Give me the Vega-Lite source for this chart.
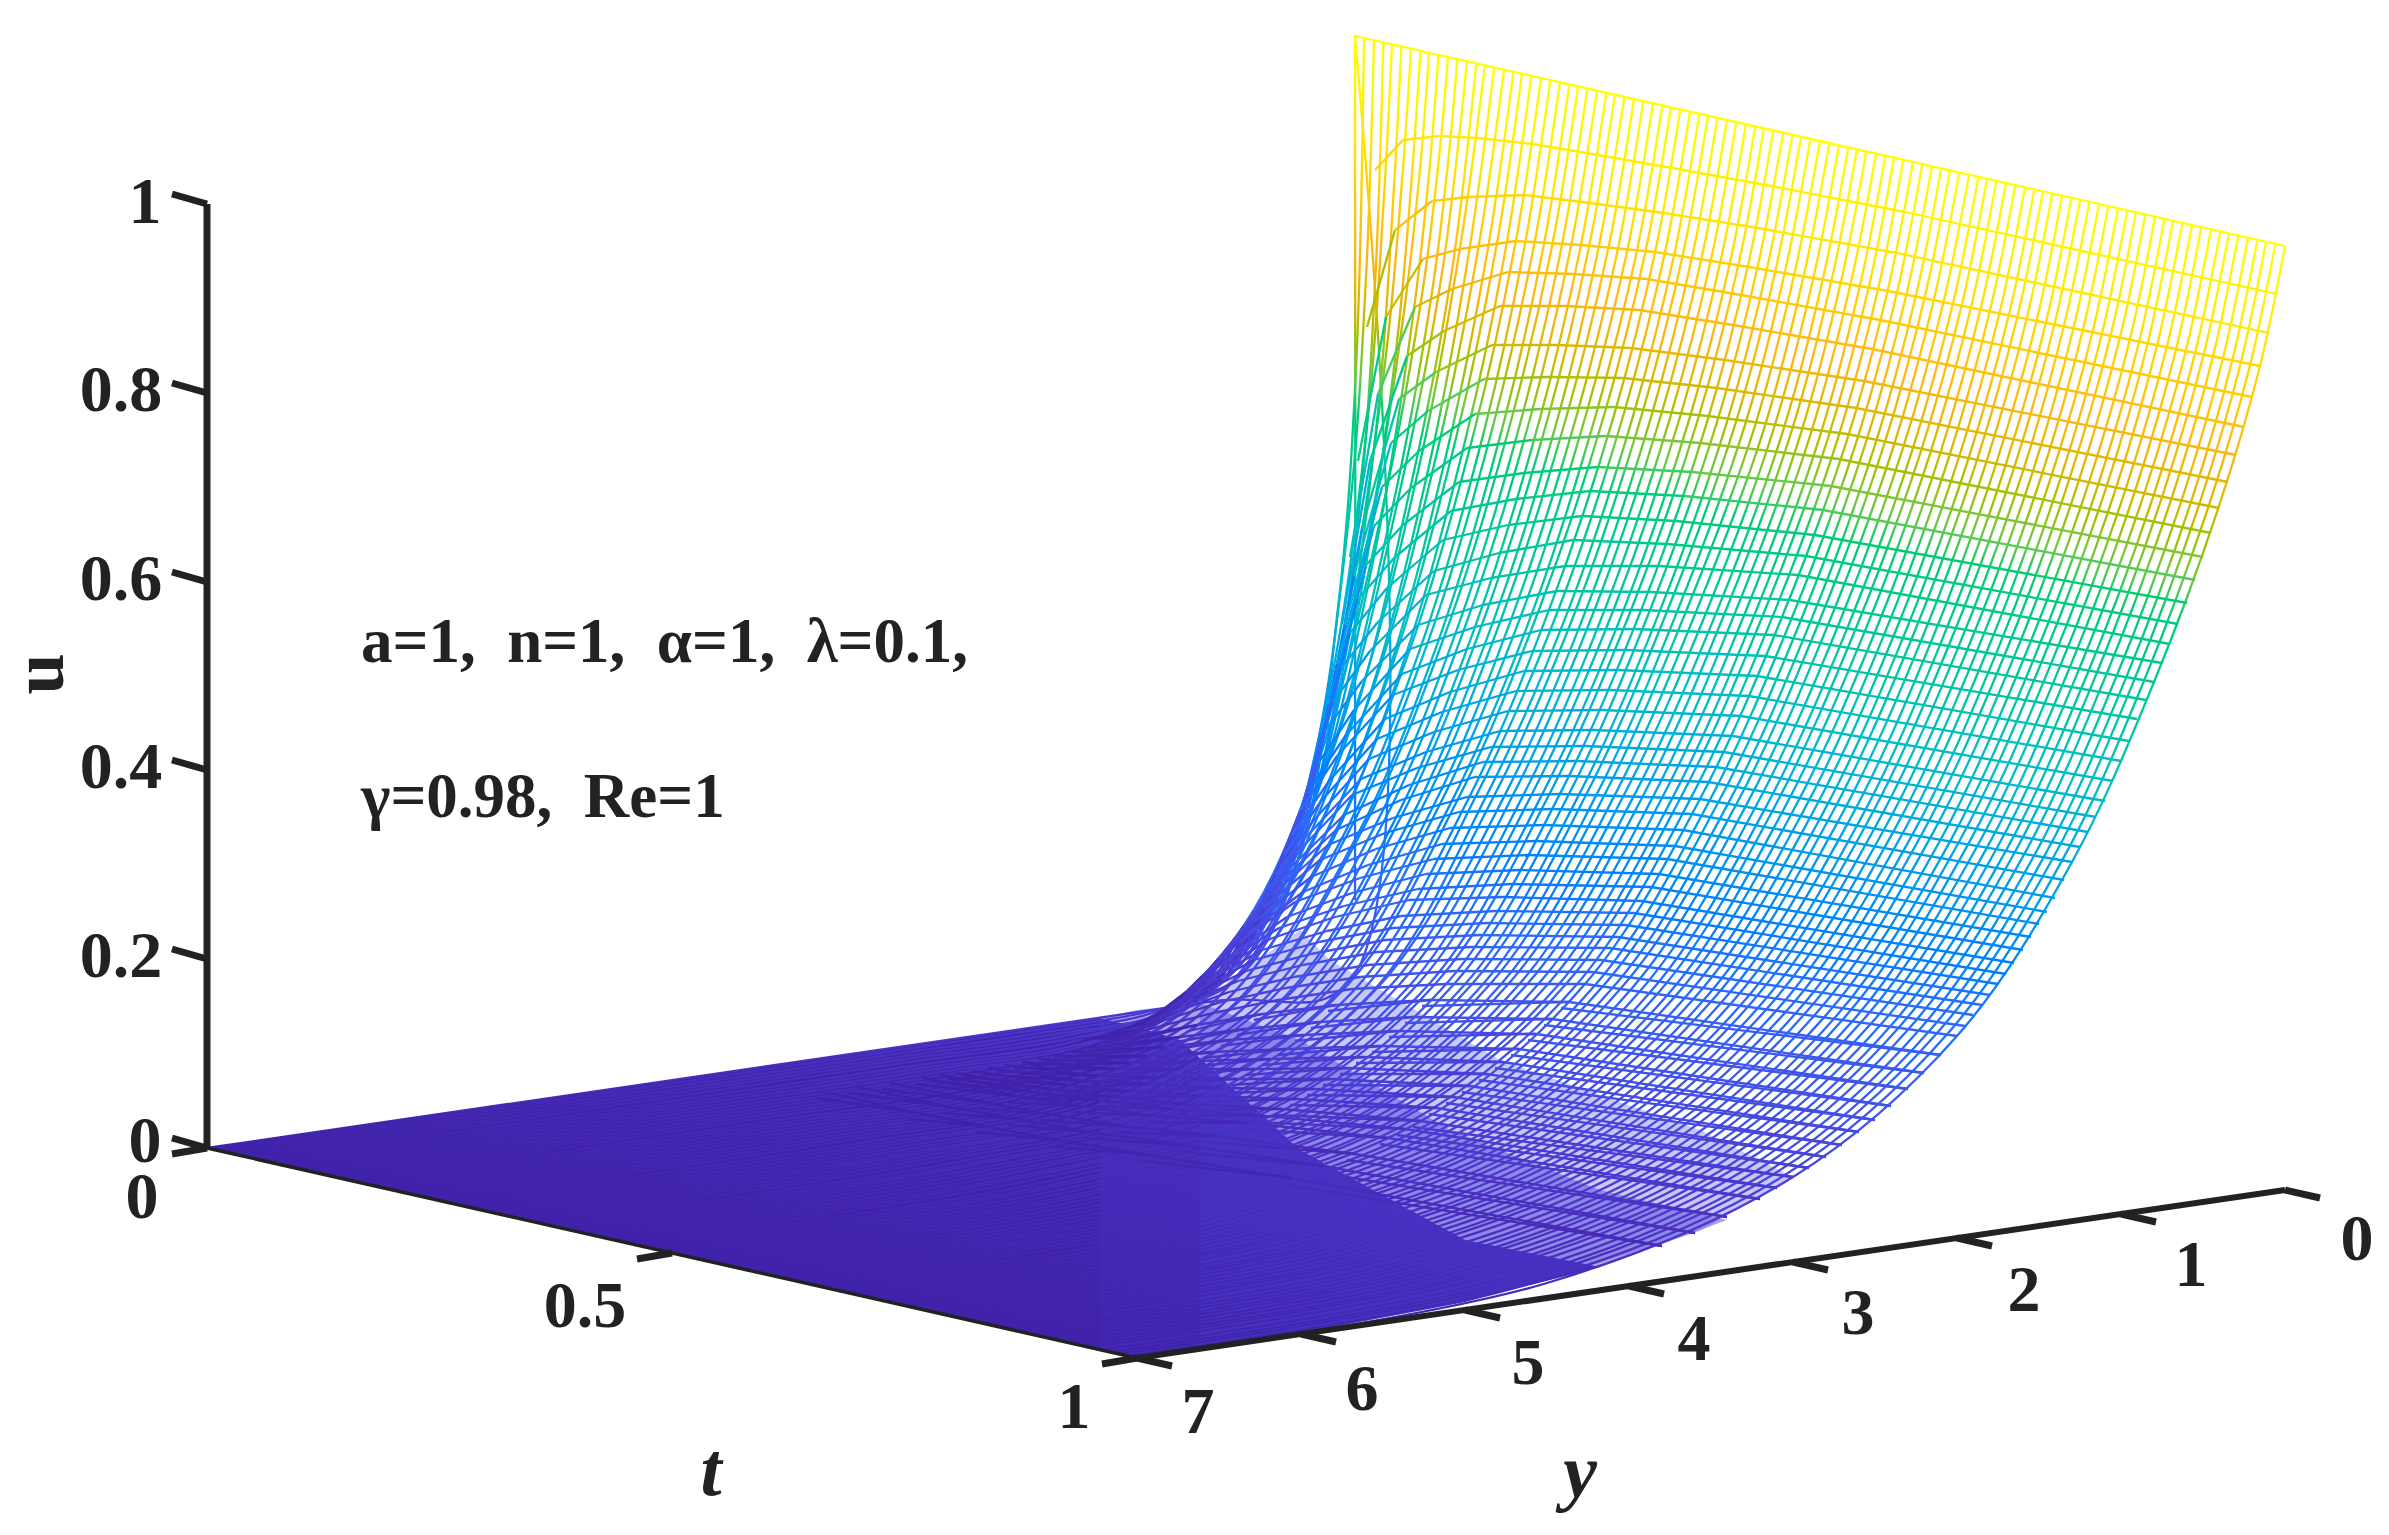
{"$schema":"https://vega.github.io/schema/vega-lite/v6.json","width":2389,"height":1535,"autosize":{"type":"none"},"padding":0,"background":"white","config":{"view":{"stroke":null}},
"datasets":{
"floor":[{"p":0,"x":207,"y":1148,"y2":1148},{"p":0,"x":1100,"y":1018,"y2":1350},{"p":0,"x":1137,"y":1027,"y2":1358},{"p":0,"x":1180,"y":1040,"y2":1352},{"p":0,"x":1300,"y":1150,"y2":1333},{"p":0,"x":1465,"y":1240,"y2":1302},{"p":0,"x":1600,"y":1267,"y2":1267},
{"p":1,"x":1100,"y":1018,"y2":1350},{"p":1,"x":1137,"y":1010,"y2":1358},{"p":1,"x":1200,"y":1003,"y2":1349},{"p":1,"x":1300,"y":1040,"y2":1333},{"p":1,"x":1450,"y":1130,"y2":1305},{"p":1,"x":1600,"y":1190,"y2":1267},{"p":1,"x":1727,"y":1220,"y2":1220},
{"p":2,"x":1200,"y":1003,"y2":1349},{"p":2,"x":1240,"y":973,"y2":1343},{"p":2,"x":1300,"y":930,"y2":1333},{"p":2,"x":1330,"y":960,"y2":1328},{"p":2,"x":1500,"y":1060,"y2":1294},{"p":2,"x":1700,"y":1130,"y2":1231},{"p":2,"x":1793,"y":1177,"y2":1177}],
"tl":[
{"i":0,"x":1355,"y":36},{"i":0,"x":1355,"y":900},{"i":0,"x":1350,"y":981},{"i":0,"x":1207,"y":1002},{"i":0,"x":207,"y":1148},
{"i":1,"x":1364,"y":38},{"i":1,"x":1356,"y":369},{"i":1,"x":1339,"y":599},{"i":1,"x":1298,"y":860},{"i":1,"x":1233,"y":982},{"i":1,"x":1151,"y":1011},{"i":1,"x":1036,"y":1030},{"i":1,"x":872,"y":1054},{"i":1,"x":626,"y":1090},{"i":1,"x":216,"y":1150},
{"i":2,"x":1374,"y":40},{"i":2,"x":1366,"y":277},{"i":2,"x":1349,"y":516},{"i":2,"x":1308,"y":786},{"i":2,"x":1243,"y":961},{"i":2,"x":1161,"y":1010},{"i":2,"x":1046,"y":1032},{"i":2,"x":882,"y":1056},{"i":2,"x":636,"y":1092},{"i":2,"x":226,"y":1152},
{"i":4,"x":1392,"y":44},{"i":4,"x":1384,"y":196},{"i":4,"x":1367,"y":426},{"i":4,"x":1326,"y":705},{"i":4,"x":1261,"y":922},{"i":4,"x":1179,"y":1005},{"i":4,"x":1064,"y":1036},{"i":4,"x":900,"y":1060},{"i":4,"x":654,"y":1096},{"i":4,"x":244,"y":1156},
{"i":6,"x":1411,"y":49},{"i":6,"x":1403,"y":168},{"i":6,"x":1386,"y":355},{"i":6,"x":1345,"y":625},{"i":6,"x":1280,"y":870},{"i":6,"x":1198,"y":991},{"i":6,"x":1083,"y":1039},{"i":6,"x":919,"y":1065},{"i":6,"x":673,"y":1101},{"i":6,"x":263,"y":1161},
{"i":8,"x":1429,"y":53},{"i":8,"x":1421,"y":158},{"i":8,"x":1404,"y":312},{"i":8,"x":1363,"y":563},{"i":8,"x":1298,"y":818},{"i":8,"x":1216,"y":967},{"i":8,"x":1101,"y":1040},{"i":8,"x":937,"y":1069},{"i":8,"x":691,"y":1105},{"i":8,"x":281,"y":1165},
{"i":10,"x":1448,"y":57},{"i":10,"x":1440,"y":148},{"i":10,"x":1423,"y":288},{"i":10,"x":1382,"y":511},{"i":10,"x":1317,"y":765},{"i":10,"x":1235,"y":938},{"i":10,"x":1120,"y":1038},{"i":10,"x":956,"y":1073},{"i":10,"x":710,"y":1109},{"i":10,"x":300,"y":1169},
{"i":12,"x":1467,"y":61},{"i":12,"x":1442,"y":273},{"i":12,"x":1401,"y":486},{"i":12,"x":1336,"y":741},{"i":12,"x":1254,"y":918},{"i":12,"x":1139,"y":1034},{"i":12,"x":975,"y":1076},{"i":12,"x":729,"y":1113},{"i":12,"x":319,"y":1173},
{"i":14,"x":1485,"y":65},{"i":14,"x":1460,"y":248},{"i":14,"x":1419,"y":467},{"i":14,"x":1354,"y":712},{"i":14,"x":1272,"y":898},{"i":14,"x":1157,"y":1029},{"i":14,"x":993,"y":1079},{"i":14,"x":747,"y":1117},{"i":14,"x":337,"y":1177},
{"i":16,"x":1504,"y":70},{"i":16,"x":1479,"y":244},{"i":16,"x":1438,"y":448},{"i":16,"x":1373,"y":688},{"i":16,"x":1291,"y":880},{"i":16,"x":1176,"y":1024},{"i":16,"x":1012,"y":1083},{"i":16,"x":766,"y":1122},{"i":16,"x":356,"y":1182},
{"i":18,"x":1522,"y":74},{"i":18,"x":1497,"y":243},{"i":18,"x":1456,"y":438},{"i":18,"x":1391,"y":669},{"i":18,"x":1309,"y":865},{"i":18,"x":1194,"y":1019},{"i":18,"x":1030,"y":1086},{"i":18,"x":784,"y":1126},{"i":18,"x":374,"y":1186},
{"i":20,"x":1541,"y":78},{"i":20,"x":1516,"y":240},{"i":20,"x":1475,"y":428},{"i":20,"x":1410,"y":649},{"i":20,"x":1328,"y":845},{"i":20,"x":1213,"y":1013},{"i":20,"x":1049,"y":1089},{"i":20,"x":803,"y":1130},{"i":20,"x":393,"y":1190},
{"i":22,"x":1560,"y":82},{"i":22,"x":1535,"y":240},{"i":22,"x":1494,"y":422},{"i":22,"x":1429,"y":639},{"i":22,"x":1347,"y":835},{"i":22,"x":1232,"y":1008},{"i":22,"x":1068,"y":1091},{"i":22,"x":822,"y":1134},{"i":22,"x":412,"y":1194},
{"i":24,"x":1578,"y":86},{"i":24,"x":1553,"y":241},{"i":24,"x":1512,"y":417},{"i":24,"x":1447,"y":629},{"i":24,"x":1365,"y":825},{"i":24,"x":1250,"y":1002},{"i":24,"x":1086,"y":1094},{"i":24,"x":840,"y":1138},{"i":24,"x":430,"y":1198},
{"i":26,"x":1597,"y":91},{"i":26,"x":1572,"y":241},{"i":26,"x":1531,"y":415},{"i":26,"x":1466,"y":624},{"i":26,"x":1384,"y":821},{"i":26,"x":1269,"y":1001},{"i":26,"x":1105,"y":1097},{"i":26,"x":859,"y":1143},{"i":26,"x":449,"y":1203},
{"i":28,"x":1615,"y":95},{"i":28,"x":1590,"y":242},{"i":28,"x":1549,"y":414},{"i":28,"x":1484,"y":619},{"i":28,"x":1402,"y":815},{"i":28,"x":1287,"y":997},{"i":28,"x":1123,"y":1098},{"i":28,"x":877,"y":1147},{"i":28,"x":467,"y":1207},
{"i":30,"x":1634,"y":99},{"i":30,"x":1609,"y":245},{"i":30,"x":1568,"y":411},{"i":30,"x":1503,"y":614},{"i":30,"x":1421,"y":810},{"i":30,"x":1306,"y":997},{"i":30,"x":1142,"y":1100},{"i":30,"x":896,"y":1151},{"i":30,"x":486,"y":1211},
{"i":32,"x":1653,"y":103},{"i":32,"x":1628,"y":247},{"i":32,"x":1587,"y":411},{"i":32,"x":1522,"y":613},{"i":32,"x":1440,"y":804},{"i":32,"x":1325,"y":994},{"i":32,"x":1161,"y":1101},{"i":32,"x":915,"y":1154},{"i":32,"x":505,"y":1215},
{"i":34,"x":1671,"y":107},{"i":34,"x":1646,"y":249},{"i":34,"x":1605,"y":412},{"i":34,"x":1540,"y":607},{"i":34,"x":1458,"y":799},{"i":34,"x":1343,"y":990},{"i":34,"x":1179,"y":1102},{"i":34,"x":933,"y":1158},{"i":34,"x":523,"y":1219},
{"i":36,"x":1690,"y":112},{"i":36,"x":1665,"y":252},{"i":36,"x":1624,"y":413},{"i":36,"x":1559,"y":608},{"i":36,"x":1477,"y":794},{"i":36,"x":1362,"y":991},{"i":36,"x":1198,"y":1104},{"i":36,"x":952,"y":1163},{"i":36,"x":542,"y":1224},
{"i":38,"x":1708,"y":116},{"i":38,"x":1683,"y":254},{"i":38,"x":1642,"y":414},{"i":38,"x":1577,"y":607},{"i":38,"x":1495,"y":794},{"i":38,"x":1380,"y":985},{"i":38,"x":1216,"y":1106},{"i":38,"x":970,"y":1166},{"i":38,"x":560,"y":1228},
{"i":40,"x":1727,"y":120},{"i":40,"x":1702,"y":256},{"i":40,"x":1661,"y":415},{"i":40,"x":1596,"y":606},{"i":40,"x":1514,"y":793},{"i":40,"x":1399,"y":985},{"i":40,"x":1235,"y":1108},{"i":40,"x":989,"y":1170},{"i":40,"x":579,"y":1232},
{"i":42,"x":1746,"y":124},{"i":42,"x":1721,"y":259},{"i":42,"x":1680,"y":417},{"i":42,"x":1615,"y":606},{"i":42,"x":1533,"y":792},{"i":42,"x":1418,"y":984},{"i":42,"x":1254,"y":1108},{"i":42,"x":1008,"y":1174},{"i":42,"x":598,"y":1236},
{"i":44,"x":1764,"y":128},{"i":44,"x":1739,"y":262},{"i":44,"x":1698,"y":419},{"i":44,"x":1633,"y":605},{"i":44,"x":1551,"y":791},{"i":44,"x":1436,"y":983},{"i":44,"x":1272,"y":1109},{"i":44,"x":1026,"y":1177},{"i":44,"x":616,"y":1240},
{"i":46,"x":1783,"y":133},{"i":46,"x":1758,"y":265},{"i":46,"x":1717,"y":422},{"i":46,"x":1652,"y":605},{"i":46,"x":1570,"y":792},{"i":46,"x":1455,"y":983},{"i":46,"x":1291,"y":1111},{"i":46,"x":1045,"y":1182},{"i":46,"x":635,"y":1245},
{"i":48,"x":1801,"y":137},{"i":48,"x":1776,"y":268},{"i":48,"x":1735,"y":425},{"i":48,"x":1670,"y":604},{"i":48,"x":1588,"y":791},{"i":48,"x":1473,"y":983},{"i":48,"x":1309,"y":1112},{"i":48,"x":1063,"y":1185},{"i":48,"x":653,"y":1249},
{"i":50,"x":1820,"y":141},{"i":50,"x":1795,"y":271},{"i":50,"x":1754,"y":429},{"i":50,"x":1689,"y":604},{"i":50,"x":1607,"y":790},{"i":50,"x":1492,"y":982},{"i":50,"x":1328,"y":1114},{"i":50,"x":1082,"y":1189},{"i":50,"x":672,"y":1253},
{"i":52,"x":1839,"y":145},{"i":52,"x":1814,"y":275},{"i":52,"x":1773,"y":431},{"i":52,"x":1708,"y":608},{"i":52,"x":1626,"y":791},{"i":52,"x":1511,"y":981},{"i":52,"x":1347,"y":1115},{"i":52,"x":1101,"y":1192},{"i":52,"x":691,"y":1257},
{"i":54,"x":1857,"y":149},{"i":54,"x":1832,"y":278},{"i":54,"x":1791,"y":433},{"i":54,"x":1726,"y":610},{"i":54,"x":1644,"y":794},{"i":54,"x":1529,"y":982},{"i":54,"x":1365,"y":1116},{"i":54,"x":1119,"y":1196},{"i":54,"x":709,"y":1261},
{"i":56,"x":1876,"y":154},{"i":56,"x":1851,"y":282},{"i":56,"x":1810,"y":436},{"i":56,"x":1745,"y":613},{"i":56,"x":1663,"y":796},{"i":56,"x":1548,"y":984},{"i":56,"x":1384,"y":1118},{"i":56,"x":1138,"y":1200},{"i":56,"x":728,"y":1266},
{"i":58,"x":1894,"y":158},{"i":58,"x":1869,"y":286},{"i":58,"x":1828,"y":438},{"i":58,"x":1763,"y":615},{"i":58,"x":1681,"y":797},{"i":58,"x":1566,"y":984},{"i":58,"x":1402,"y":1119},{"i":58,"x":1156,"y":1204},{"i":58,"x":746,"y":1270},
{"i":60,"x":1913,"y":162},{"i":60,"x":1888,"y":289},{"i":60,"x":1847,"y":440},{"i":60,"x":1782,"y":617},{"i":60,"x":1700,"y":799},{"i":60,"x":1585,"y":984},{"i":60,"x":1421,"y":1121},{"i":60,"x":1175,"y":1207},{"i":60,"x":765,"y":1274},
{"i":62,"x":1932,"y":166},{"i":62,"x":1907,"y":292},{"i":62,"x":1866,"y":442},{"i":62,"x":1801,"y":620},{"i":62,"x":1719,"y":801},{"i":62,"x":1604,"y":985},{"i":62,"x":1440,"y":1123},{"i":62,"x":1194,"y":1210},{"i":62,"x":784,"y":1278},
{"i":64,"x":1950,"y":170},{"i":64,"x":1925,"y":296},{"i":64,"x":1884,"y":445},{"i":64,"x":1819,"y":622},{"i":64,"x":1737,"y":803},{"i":64,"x":1622,"y":987},{"i":64,"x":1458,"y":1126},{"i":64,"x":1212,"y":1214},{"i":64,"x":802,"y":1282},
{"i":66,"x":1969,"y":175},{"i":66,"x":1944,"y":300},{"i":66,"x":1903,"y":448},{"i":66,"x":1838,"y":626},{"i":66,"x":1756,"y":806},{"i":66,"x":1641,"y":990},{"i":66,"x":1477,"y":1129},{"i":66,"x":1231,"y":1219},{"i":66,"x":821,"y":1287},
{"i":68,"x":1987,"y":179},{"i":68,"x":1962,"y":304},{"i":68,"x":1921,"y":451},{"i":68,"x":1856,"y":628},{"i":68,"x":1774,"y":808},{"i":68,"x":1659,"y":992},{"i":68,"x":1495,"y":1131},{"i":68,"x":1249,"y":1223},{"i":68,"x":839,"y":1291},
{"i":70,"x":2006,"y":183},{"i":70,"x":1981,"y":307},{"i":70,"x":1940,"y":454},{"i":70,"x":1875,"y":632},{"i":70,"x":1793,"y":811},{"i":70,"x":1678,"y":993},{"i":70,"x":1514,"y":1133},{"i":70,"x":1268,"y":1226},{"i":70,"x":858,"y":1295},
{"i":72,"x":2025,"y":187},{"i":72,"x":2000,"y":311},{"i":72,"x":1959,"y":457},{"i":72,"x":1894,"y":635},{"i":72,"x":1812,"y":814},{"i":72,"x":1697,"y":995},{"i":72,"x":1533,"y":1135},{"i":72,"x":1287,"y":1230},{"i":72,"x":877,"y":1299},
{"i":74,"x":2043,"y":191},{"i":74,"x":2018,"y":314},{"i":74,"x":1977,"y":460},{"i":74,"x":1912,"y":638},{"i":74,"x":1830,"y":817},{"i":74,"x":1715,"y":997},{"i":74,"x":1551,"y":1138},{"i":74,"x":1305,"y":1233},{"i":74,"x":895,"y":1303},
{"i":76,"x":2062,"y":196},{"i":76,"x":2037,"y":319},{"i":76,"x":1996,"y":464},{"i":76,"x":1931,"y":642},{"i":76,"x":1849,"y":821},{"i":76,"x":1734,"y":1000},{"i":76,"x":1570,"y":1141},{"i":76,"x":1324,"y":1238},{"i":76,"x":914,"y":1308},
{"i":78,"x":2080,"y":200},{"i":78,"x":2055,"y":322},{"i":78,"x":2014,"y":468},{"i":78,"x":1949,"y":645},{"i":78,"x":1867,"y":823},{"i":78,"x":1752,"y":1002},{"i":78,"x":1588,"y":1144},{"i":78,"x":1342,"y":1241},{"i":78,"x":932,"y":1312},
{"i":80,"x":2099,"y":204},{"i":80,"x":2074,"y":326},{"i":80,"x":2033,"y":471},{"i":80,"x":1968,"y":648},{"i":80,"x":1886,"y":826},{"i":80,"x":1771,"y":1004},{"i":80,"x":1607,"y":1146},{"i":80,"x":1361,"y":1245},{"i":80,"x":951,"y":1316},
{"i":82,"x":2118,"y":208},{"i":82,"x":2093,"y":330},{"i":82,"x":2052,"y":474},{"i":82,"x":1987,"y":651},{"i":82,"x":1905,"y":829},{"i":82,"x":1790,"y":1007},{"i":82,"x":1626,"y":1149},{"i":82,"x":1380,"y":1249},{"i":82,"x":970,"y":1320},
{"i":84,"x":2136,"y":212},{"i":84,"x":2111,"y":334},{"i":84,"x":2070,"y":477},{"i":84,"x":2005,"y":654},{"i":84,"x":1923,"y":832},{"i":84,"x":1808,"y":1010},{"i":84,"x":1644,"y":1152},{"i":84,"x":1398,"y":1252},{"i":84,"x":988,"y":1324},
{"i":86,"x":2155,"y":217},{"i":86,"x":2130,"y":339},{"i":86,"x":2089,"y":482},{"i":86,"x":2024,"y":658},{"i":86,"x":1942,"y":837},{"i":86,"x":1827,"y":1014},{"i":86,"x":1663,"y":1156},{"i":86,"x":1417,"y":1257},{"i":86,"x":1007,"y":1329},
{"i":88,"x":2173,"y":221},{"i":88,"x":2148,"y":342},{"i":88,"x":2107,"y":485},{"i":88,"x":2042,"y":661},{"i":88,"x":1960,"y":840},{"i":88,"x":1845,"y":1017},{"i":88,"x":1681,"y":1159},{"i":88,"x":1435,"y":1261},{"i":88,"x":1025,"y":1333},
{"i":90,"x":2192,"y":225},{"i":90,"x":2167,"y":346},{"i":90,"x":2126,"y":488},{"i":90,"x":2061,"y":664},{"i":90,"x":1979,"y":843},{"i":90,"x":1864,"y":1019},{"i":90,"x":1700,"y":1161},{"i":90,"x":1454,"y":1264},{"i":90,"x":1044,"y":1337},
{"i":92,"x":2211,"y":229},{"i":92,"x":2186,"y":350},{"i":92,"x":2145,"y":491},{"i":92,"x":2080,"y":667},{"i":92,"x":1998,"y":846},{"i":92,"x":1883,"y":1022},{"i":92,"x":1719,"y":1164},{"i":92,"x":1473,"y":1268},{"i":92,"x":1063,"y":1341},
{"i":94,"x":2229,"y":233},{"i":94,"x":2204,"y":353},{"i":94,"x":2163,"y":494},{"i":94,"x":2098,"y":670},{"i":94,"x":2016,"y":850},{"i":94,"x":1901,"y":1025},{"i":94,"x":1737,"y":1167},{"i":94,"x":1491,"y":1271},{"i":94,"x":1081,"y":1345},
{"i":96,"x":2248,"y":238},{"i":96,"x":2223,"y":358},{"i":96,"x":2182,"y":499},{"i":96,"x":2117,"y":675},{"i":96,"x":2035,"y":854},{"i":96,"x":1920,"y":1029},{"i":96,"x":1756,"y":1171},{"i":96,"x":1510,"y":1276},{"i":96,"x":1100,"y":1350},
{"i":98,"x":2266,"y":242},{"i":98,"x":2241,"y":362},{"i":98,"x":2200,"y":502},{"i":98,"x":2135,"y":678},{"i":98,"x":2053,"y":858},{"i":98,"x":1938,"y":1032},{"i":98,"x":1774,"y":1174},{"i":98,"x":1528,"y":1279},{"i":98,"x":1118,"y":1354},
{"i":100,"x":2285,"y":246},{"i":100,"x":2260,"y":366},{"i":100,"x":2219,"y":506},{"i":100,"x":2154,"y":682},{"i":100,"x":2072,"y":862},{"i":100,"x":1957,"y":1036},{"i":100,"x":1793,"y":1177},{"i":100,"x":1547,"y":1283},{"i":100,"x":1137,"y":1358}
],
"yl":[
{"k":0,"x":1355,"y":36,"u":1},{"k":0,"x":2285,"y":246,"u":1},
{"k":1,"x":1375,"y":170,"u":0.865},{"k":1,"x":1403,"y":140,"u":0.905},{"k":1,"x":1440,"y":136,"u":0.917},{"k":1,"x":1477,"y":138,"u":0.925},{"k":1,"x":1533,"y":144,"u":0.931},{"k":1,"x":1598,"y":155,"u":0.936},{"k":1,"x":1672,"y":168,"u":0.94},{"k":1,"x":1766,"y":185,"u":0.945},{"k":1,"x":1905,"y":212,"u":0.948},{"k":1,"x":2277,"y":294,"u":0.95},
{"k":2,"x":1367,"y":327,"u":0.7},{"k":2,"x":1395,"y":230,"u":0.81},{"k":2,"x":1432,"y":201,"u":0.85},{"k":2,"x":1469,"y":197,"u":0.865},{"k":2,"x":1525,"y":195,"u":0.878},{"k":2,"x":1590,"y":203,"u":0.886},{"k":2,"x":1664,"y":213,"u":0.893},{"k":2,"x":1758,"y":228,"u":0.9},{"k":2,"x":1897,"y":253,"u":0.906},{"k":2,"x":2269,"y":333,"u":0.91},
{"k":3,"x":1358,"y":461,"u":0.56},{"k":3,"x":1386,"y":317,"u":0.72},{"k":3,"x":1423,"y":259,"u":0.79},{"k":3,"x":1460,"y":249,"u":0.81},{"k":3,"x":1516,"y":241,"u":0.832},{"k":3,"x":1581,"y":245,"u":0.843},{"k":3,"x":1655,"y":252,"u":0.853},{"k":3,"x":1749,"y":267,"u":0.861},{"k":3,"x":1888,"y":291,"u":0.868},{"k":3,"x":2260,"y":366,"u":0.877},
{"k":4,"x":1350,"y":557,"u":0.46},{"k":4,"x":1378,"y":394,"u":0.64},{"k":4,"x":1415,"y":307,"u":0.74},{"k":4,"x":1452,"y":289,"u":0.77},{"k":4,"x":1508,"y":272,"u":0.8},{"k":4,"x":1573,"y":274,"u":0.813},{"k":4,"x":1647,"y":279,"u":0.825},{"k":4,"x":1741,"y":295,"u":0.832},{"k":4,"x":1880,"y":320,"u":0.838},{"k":4,"x":2252,"y":397,"u":0.845},
{"k":5,"x":1342,"y":624,"u":0.39},{"k":5,"x":1370,"y":461,"u":0.57},{"k":5,"x":1407,"y":356,"u":0.69},{"k":5,"x":1444,"y":331,"u":0.73},{"k":5,"x":1500,"y":306,"u":0.765},{"k":5,"x":1565,"y":306,"u":0.78},{"k":5,"x":1639,"y":310,"u":0.795},{"k":5,"x":1733,"y":325,"u":0.8},{"k":5,"x":1872,"y":349,"u":0.808},{"k":5,"x":2244,"y":427,"u":0.815},
{"k":6,"x":1334,"y":681,"u":0.33},{"k":6,"x":1362,"y":528,"u":0.5},{"k":6,"x":1399,"y":399,"u":0.645},{"k":6,"x":1436,"y":372,"u":0.69},{"k":6,"x":1492,"y":345,"u":0.725},{"k":6,"x":1557,"y":345,"u":0.74},{"k":6,"x":1631,"y":348,"u":0.755},{"k":6,"x":1725,"y":360,"u":0.765},{"k":6,"x":1864,"y":381,"u":0.775},{"k":6,"x":2236,"y":455,"u":0.786},
{"k":7,"x":1326,"y":730,"u":0.28},{"k":7,"x":1354,"y":576,"u":0.45},{"k":7,"x":1391,"y":443,"u":0.6},{"k":7,"x":1428,"y":411,"u":0.645},{"k":7,"x":1484,"y":379,"u":0.69},{"k":7,"x":1549,"y":377,"u":0.708},{"k":7,"x":1623,"y":378,"u":0.725},{"k":7,"x":1717,"y":388,"u":0.737},{"k":7,"x":1856,"y":408,"u":0.748},{"k":7,"x":2228,"y":482,"u":0.759},
{"k":8,"x":1317,"y":769,"u":0.24},{"k":8,"x":1345,"y":625,"u":0.4},{"k":8,"x":1382,"y":487,"u":0.555},{"k":8,"x":1419,"y":451,"u":0.6},{"k":8,"x":1475,"y":414,"u":0.655},{"k":8,"x":1540,"y":409,"u":0.675},{"k":8,"x":1614,"y":407,"u":0.695},{"k":8,"x":1708,"y":416,"u":0.71},{"k":8,"x":1847,"y":434,"u":0.722},{"k":8,"x":2219,"y":508,"u":0.733},
{"k":9,"x":1309,"y":808,"u":0.2},{"k":9,"x":1337,"y":664,"u":0.36},{"k":9,"x":1374,"y":526,"u":0.515},{"k":9,"x":1411,"y":488,"u":0.565},{"k":9,"x":1467,"y":448,"u":0.62},{"k":9,"x":1532,"y":440,"u":0.642},{"k":9,"x":1606,"y":436,"u":0.665},{"k":9,"x":1700,"y":443,"u":0.682},{"k":9,"x":1839,"y":459,"u":0.697},{"k":9,"x":2211,"y":533,"u":0.708},
{"k":10,"x":1301,"y":838,"u":0.17},{"k":10,"x":1329,"y":703,"u":0.32},{"k":10,"x":1366,"y":565,"u":0.475},{"k":10,"x":1403,"y":525,"u":0.525},{"k":10,"x":1459,"y":482,"u":0.585},{"k":10,"x":1524,"y":473,"u":0.61},{"k":10,"x":1598,"y":467,"u":0.635},{"k":10,"x":1692,"y":472,"u":0.655},{"k":10,"x":1831,"y":486,"u":0.67},{"k":10,"x":2203,"y":557,"u":0.683},
{"k":11,"x":1293,"y":862,"u":0.145},{"k":11,"x":1321,"y":737,"u":0.285},{"k":11,"x":1358,"y":599,"u":0.44},{"k":11,"x":1395,"y":557,"u":0.495},{"k":11,"x":1451,"y":511,"u":0.555},{"k":11,"x":1516,"y":499,"u":0.583},{"k":11,"x":1590,"y":491,"u":0.61},{"k":11,"x":1684,"y":496,"u":0.63},{"k":11,"x":1823,"y":510,"u":0.645},{"k":11,"x":2195,"y":580,"u":0.66},
{"k":12,"x":1285,"y":882,"u":0.125},{"k":12,"x":1313,"y":771,"u":0.25},{"k":12,"x":1350,"y":633,"u":0.405},{"k":12,"x":1387,"y":588,"u":0.46},{"k":12,"x":1443,"y":540,"u":0.525},{"k":12,"x":1508,"y":525,"u":0.555},{"k":12,"x":1582,"y":516,"u":0.585},{"k":12,"x":1676,"y":521,"u":0.605},{"k":12,"x":1815,"y":535,"u":0.62},{"k":12,"x":2187,"y":603,"u":0.637},
{"k":13,"x":1276,"y":903,"u":0.105},{"k":13,"x":1304,"y":801,"u":0.22},{"k":13,"x":1341,"y":668,"u":0.37},{"k":13,"x":1378,"y":622,"u":0.43},{"k":13,"x":1434,"y":571,"u":0.495},{"k":13,"x":1499,"y":553,"u":0.53},{"k":13,"x":1573,"y":540,"u":0.56},{"k":13,"x":1667,"y":544,"u":0.582},{"k":13,"x":1806,"y":556,"u":0.6},{"k":13,"x":2178,"y":624,"u":0.617},
{"k":14,"x":1268,"y":918,"u":0.09},{"k":14,"x":1296,"y":826,"u":0.195},{"k":14,"x":1333,"y":702,"u":0.335},{"k":14,"x":1370,"y":651,"u":0.4},{"k":14,"x":1426,"y":595,"u":0.47},{"k":14,"x":1491,"y":578,"u":0.505},{"k":14,"x":1565,"y":566,"u":0.535},{"k":14,"x":1659,"y":566,"u":0.56},{"k":14,"x":1798,"y":575,"u":0.58},{"k":14,"x":2170,"y":644,"u":0.596},
{"k":15,"x":1260,"y":930,"u":0.078},{"k":15,"x":1288,"y":851,"u":0.17},{"k":15,"x":1325,"y":731,"u":0.305},{"k":15,"x":1362,"y":681,"u":0.37},{"k":15,"x":1418,"y":625,"u":0.44},{"k":15,"x":1483,"y":605,"u":0.475},{"k":15,"x":1557,"y":591,"u":0.51},{"k":15,"x":1651,"y":592,"u":0.535},{"k":15,"x":1790,"y":600,"u":0.555},{"k":15,"x":2162,"y":663,"u":0.577},
{"k":16,"x":1252,"y":941,"u":0.068},{"k":16,"x":1280,"y":870,"u":0.15},{"k":16,"x":1317,"y":765,"u":0.27},{"k":16,"x":1354,"y":710,"u":0.34},{"k":16,"x":1410,"y":649,"u":0.415},{"k":16,"x":1475,"y":627,"u":0.455},{"k":16,"x":1549,"y":610,"u":0.49},{"k":16,"x":1643,"y":610,"u":0.515},{"k":16,"x":1782,"y":617,"u":0.538},{"k":16,"x":2154,"y":682,"u":0.558},
{"k":17,"x":1244,"y":954,"u":0.055},{"k":17,"x":1272,"y":890,"u":0.13},{"k":17,"x":1309,"y":790,"u":0.245},{"k":17,"x":1346,"y":735,"u":0.31},{"k":17,"x":1402,"y":674,"u":0.39},{"k":17,"x":1467,"y":649,"u":0.43},{"k":17,"x":1541,"y":630,"u":0.47},{"k":17,"x":1635,"y":629,"u":0.495},{"k":17,"x":1774,"y":635,"u":0.52},{"k":17,"x":2146,"y":700,"u":0.54},
{"k":18,"x":1235,"y":966,"u":0.045},{"k":18,"x":1263,"y":906,"u":0.115},{"k":18,"x":1300,"y":811,"u":0.225},{"k":18,"x":1337,"y":756,"u":0.29},{"k":18,"x":1393,"y":695,"u":0.37},{"k":18,"x":1458,"y":670,"u":0.41},{"k":18,"x":1532,"y":651,"u":0.45},{"k":18,"x":1626,"y":650,"u":0.475},{"k":18,"x":1765,"y":656,"u":0.5},{"k":18,"x":2137,"y":719,"u":0.522},
{"k":19,"x":1227,"y":976,"u":0.035},{"k":19,"x":1255,"y":922,"u":0.1},{"k":19,"x":1292,"y":835,"u":0.2},{"k":19,"x":1329,"y":781,"u":0.265},{"k":19,"x":1385,"y":719,"u":0.345},{"k":19,"x":1450,"y":692,"u":0.39},{"k":19,"x":1524,"y":671,"u":0.43},{"k":19,"x":1618,"y":670,"u":0.455},{"k":19,"x":1757,"y":676,"u":0.48},{"k":19,"x":2129,"y":741,"u":0.5},
{"k":20,"x":1219,"y":982,"u":0.03},{"k":20,"x":1247,"y":937,"u":0.085},{"k":20,"x":1284,"y":855,"u":0.18},{"k":20,"x":1321,"y":801,"u":0.245},{"k":20,"x":1377,"y":739,"u":0.325},{"k":20,"x":1442,"y":712,"u":0.37},{"k":20,"x":1516,"y":691,"u":0.41},{"k":20,"x":1610,"y":690,"u":0.435},{"k":20,"x":1749,"y":696,"u":0.46},{"k":20,"x":2121,"y":761,"u":0.48},
{"k":21,"x":1211,"y":990,"u":0.022},{"k":21,"x":1239,"y":952,"u":0.07},{"k":21,"x":1276,"y":875,"u":0.16},{"k":21,"x":1313,"y":821,"u":0.225},{"k":21,"x":1369,"y":759,"u":0.305},{"k":21,"x":1434,"y":732,"u":0.35},{"k":21,"x":1508,"y":711,"u":0.39},{"k":21,"x":1602,"y":710,"u":0.415},{"k":21,"x":1741,"y":716,"u":0.44},{"k":21,"x":2113,"y":781,"u":0.46},
{"k":22,"x":1203,"y":996,"u":0.017},{"k":22,"x":1231,"y":962,"u":0.06},{"k":22,"x":1268,"y":890,"u":0.145},{"k":22,"x":1305,"y":838,"u":0.205},{"k":22,"x":1361,"y":779,"u":0.285},{"k":22,"x":1426,"y":752,"u":0.33},{"k":22,"x":1500,"y":731,"u":0.37},{"k":22,"x":1594,"y":730,"u":0.395},{"k":22,"x":1733,"y":736,"u":0.42},{"k":22,"x":2105,"y":801,"u":0.44},
{"k":23,"x":1194,"y":1002,"u":0.013},{"k":23,"x":1222,"y":974,"u":0.05},{"k":23,"x":1259,"y":906,"u":0.13},{"k":23,"x":1296,"y":854,"u":0.19},{"k":23,"x":1352,"y":795,"u":0.27},{"k":23,"x":1417,"y":768,"u":0.315},{"k":23,"x":1491,"y":747,"u":0.355},{"k":23,"x":1585,"y":746,"u":0.38},{"k":23,"x":1724,"y":752,"u":0.405},{"k":23,"x":2096,"y":817,"u":0.425},
{"k":24,"x":1186,"y":1006,"u":0.01},{"k":24,"x":1214,"y":980,"u":0.045},{"k":24,"x":1251,"y":917,"u":0.12},{"k":24,"x":1288,"y":870,"u":0.175},{"k":24,"x":1344,"y":815,"u":0.25},{"k":24,"x":1409,"y":785,"u":0.295},{"k":24,"x":1483,"y":762,"u":0.34},{"k":24,"x":1577,"y":761,"u":0.365},{"k":24,"x":1716,"y":767,"u":0.39},{"k":24,"x":2088,"y":832,"u":0.41},
{"k":25,"x":1206,"y":985,"u":0.04},{"k":25,"x":1243,"y":927,"u":0.11},{"k":25,"x":1280,"y":882,"u":0.16},{"k":25,"x":1336,"y":830,"u":0.235},{"k":25,"x":1401,"y":800,"u":0.28},{"k":25,"x":1475,"y":777,"u":0.325},{"k":25,"x":1569,"y":776,"u":0.35},{"k":25,"x":1708,"y":782,"u":0.375},{"k":25,"x":2080,"y":847,"u":0.395},
{"k":26,"x":1198,"y":991,"u":0.035},{"k":26,"x":1235,"y":938,"u":0.1},{"k":26,"x":1272,"y":895,"u":0.15},{"k":26,"x":1328,"y":845,"u":0.22},{"k":26,"x":1393,"y":818,"u":0.26},{"k":26,"x":1467,"y":797,"u":0.305},{"k":26,"x":1561,"y":794,"u":0.33},{"k":26,"x":1700,"y":799,"u":0.358},{"k":26,"x":2072,"y":862,"u":0.38},
{"k":27,"x":1190,"y":997,"u":0.03},{"k":27,"x":1227,"y":948,"u":0.09},{"k":27,"x":1264,"y":907,"u":0.14},{"k":27,"x":1320,"y":860,"u":0.205},{"k":27,"x":1385,"y":833,"u":0.25},{"k":27,"x":1459,"y":812,"u":0.29},{"k":27,"x":1553,"y":809,"u":0.315},{"k":27,"x":1692,"y":814,"u":0.343},{"k":27,"x":2064,"y":880,"u":0.362},
{"k":28,"x":1181,"y":1003,"u":0.025},{"k":28,"x":1218,"y":959,"u":0.08},{"k":28,"x":1255,"y":921,"u":0.13},{"k":28,"x":1311,"y":877,"u":0.19},{"k":28,"x":1376,"y":849,"u":0.235},{"k":28,"x":1450,"y":828,"u":0.275},{"k":28,"x":1544,"y":825,"u":0.3},{"k":28,"x":1683,"y":830,"u":0.328},{"k":28,"x":2055,"y":898,"u":0.345},
{"k":29,"x":1173,"y":1009,"u":0.02},{"k":29,"x":1210,"y":970,"u":0.07},{"k":29,"x":1247,"y":934,"u":0.115},{"k":29,"x":1303,"y":892,"u":0.175},{"k":29,"x":1368,"y":865,"u":0.22},{"k":29,"x":1442,"y":844,"u":0.26},{"k":29,"x":1536,"y":841,"u":0.285},{"k":29,"x":1675,"y":846,"u":0.313},{"k":29,"x":2047,"y":912,"u":0.332},
{"k":30,"x":1165,"y":1013,"u":0.017},{"k":30,"x":1202,"y":976,"u":0.065},{"k":30,"x":1239,"y":942,"u":0.105},{"k":30,"x":1295,"y":902,"u":0.165},{"k":30,"x":1360,"y":878,"u":0.205},{"k":30,"x":1434,"y":859,"u":0.245},{"k":30,"x":1528,"y":855,"u":0.27},{"k":30,"x":1667,"y":859,"u":0.3},{"k":30,"x":2039,"y":924,"u":0.32},
{"k":31,"x":1157,"y":1017,"u":0.014},{"k":31,"x":1194,"y":986,"u":0.055},{"k":31,"x":1231,"y":955,"u":0.095},{"k":31,"x":1287,"y":917,"u":0.15},{"k":31,"x":1352,"y":893,"u":0.19},{"k":31,"x":1426,"y":874,"u":0.23},{"k":31,"x":1520,"y":870,"u":0.255},{"k":31,"x":1659,"y":874,"u":0.285},{"k":31,"x":2031,"y":937,"u":0.307},
{"k":32,"x":1149,"y":1020,"u":0.012},{"k":32,"x":1186,"y":992,"u":0.05},{"k":32,"x":1223,"y":963,"u":0.085},{"k":32,"x":1279,"y":928,"u":0.14},{"k":32,"x":1344,"y":906,"u":0.18},{"k":32,"x":1418,"y":889,"u":0.215},{"k":32,"x":1512,"y":884,"u":0.24},{"k":32,"x":1651,"y":887,"u":0.272},{"k":32,"x":2023,"y":950,"u":0.295},
{"k":33,"x":1140,"y":1024,"u":0.01},{"k":33,"x":1177,"y":1003,"u":0.04},{"k":33,"x":1214,"y":974,"u":0.075},{"k":33,"x":1270,"y":939,"u":0.13},{"k":33,"x":1335,"y":917,"u":0.17},{"k":33,"x":1409,"y":900,"u":0.205},{"k":33,"x":1503,"y":897,"u":0.23},{"k":33,"x":1642,"y":901,"u":0.26},{"k":33,"x":2014,"y":963,"u":0.283},
{"k":34,"x":1132,"y":1026,"u":0.008},{"k":34,"x":1169,"y":1009,"u":0.035},{"k":34,"x":1206,"y":982,"u":0.07},{"k":34,"x":1262,"y":950,"u":0.12},{"k":34,"x":1327,"y":931,"u":0.155},{"k":34,"x":1401,"y":916,"u":0.19},{"k":34,"x":1495,"y":911,"u":0.215},{"k":34,"x":1634,"y":913,"u":0.248},{"k":34,"x":2006,"y":974,"u":0.272},
{"k":35,"x":1124,"y":1029,"u":0.006},{"k":35,"x":1161,"y":1015,"u":0.03},{"k":35,"x":1198,"y":990,"u":0.06},{"k":35,"x":1254,"y":960,"u":0.11},{"k":35,"x":1319,"y":942,"u":0.145},{"k":35,"x":1393,"y":928,"u":0.178},{"k":35,"x":1487,"y":923,"u":0.205},{"k":35,"x":1626,"y":925,"u":0.236},{"k":35,"x":1998,"y":984,"u":0.262},
{"k":36,"x":1116,"y":1031,"u":0.005},{"k":36,"x":1153,"y":1020,"u":0.025},{"k":36,"x":1190,"y":998,"u":0.052},{"k":36,"x":1246,"y":971,"u":0.1},{"k":36,"x":1311,"y":954,"u":0.135},{"k":36,"x":1385,"y":940,"u":0.167},{"k":36,"x":1479,"y":935,"u":0.195},{"k":36,"x":1618,"y":937,"u":0.224},{"k":36,"x":1990,"y":995,"u":0.252},
{"k":37,"x":1108,"y":1033,"u":0.004},{"k":37,"x":1145,"y":1024,"u":0.022},{"k":37,"x":1182,"y":1005,"u":0.045},{"k":37,"x":1238,"y":981,"u":0.09},{"k":37,"x":1303,"y":965,"u":0.122},{"k":37,"x":1377,"y":952,"u":0.154},{"k":37,"x":1471,"y":947,"u":0.185},{"k":37,"x":1610,"y":948,"u":0.214},{"k":37,"x":1982,"y":1005,"u":0.242},
{"k":38,"x":1099,"y":1036,"u":0.003},{"k":38,"x":1136,"y":1030,"u":0.018},{"k":38,"x":1173,"y":1013,"u":0.038},{"k":38,"x":1229,"y":992,"u":0.08},{"k":38,"x":1294,"y":977,"u":0.11},{"k":38,"x":1368,"y":965,"u":0.143},{"k":38,"x":1462,"y":959,"u":0.175},{"k":38,"x":1601,"y":960,"u":0.203},{"k":38,"x":1973,"y":1015,"u":0.232},
{"k":39,"x":1091,"y":1038,"u":0.002},{"k":39,"x":1128,"y":1034,"u":0.015},{"k":39,"x":1165,"y":1020,"u":0.032},{"k":39,"x":1221,"y":1002,"u":0.07},{"k":39,"x":1286,"y":988,"u":0.1},{"k":39,"x":1360,"y":977,"u":0.131},{"k":39,"x":1454,"y":971,"u":0.165},{"k":39,"x":1593,"y":972,"u":0.192},{"k":39,"x":1965,"y":1026,"u":0.223},
{"k":40,"x":1083,"y":1039,"u":0.002},{"k":40,"x":1120,"y":1038,"u":0.012},{"k":40,"x":1157,"y":1027,"u":0.025},{"k":40,"x":1213,"y":1013,"u":0.06},{"k":40,"x":1278,"y":1000,"u":0.09},{"k":40,"x":1352,"y":989,"u":0.12},{"k":40,"x":1446,"y":984,"u":0.15},{"k":40,"x":1585,"y":984,"u":0.18},{"k":40,"x":1957,"y":1036,"u":0.214},
{"k":42,"x":1104,"y":1043,"u":0.009},{"k":42,"x":1197,"y":1025,"u":0.05},{"k":42,"x":1262,"y":1014,"u":0.075},{"k":42,"x":1336,"y":1005,"u":0.105},{"k":42,"x":1430,"y":1000,"u":0.13},{"k":42,"x":1569,"y":1002,"u":0.163},{"k":42,"x":1941,"y":1055,"u":0.196},
{"k":44,"x":1087,"y":1048,"u":0.006},{"k":44,"x":1180,"y":1037,"u":0.04},{"k":44,"x":1245,"y":1029,"u":0.063},{"k":44,"x":1319,"y":1022,"u":0.09},{"k":44,"x":1413,"y":1017,"u":0.115},{"k":44,"x":1552,"y":1019,"u":0.148},{"k":44,"x":1924,"y":1073,"u":0.18},
{"k":46,"x":1071,"y":1052,"u":0.004},{"k":46,"x":1164,"y":1047,"u":0.032},{"k":46,"x":1229,"y":1040,"u":0.053},{"k":46,"x":1303,"y":1035,"u":0.078},{"k":46,"x":1397,"y":1031,"u":0.1},{"k":46,"x":1536,"y":1034,"u":0.135},{"k":46,"x":1908,"y":1089,"u":0.165},
{"k":48,"x":1054,"y":1056,"u":0.003},{"k":48,"x":1147,"y":1056,"u":0.025},{"k":48,"x":1212,"y":1052,"u":0.045},{"k":48,"x":1286,"y":1049,"u":0.067},{"k":48,"x":1380,"y":1046,"u":0.09},{"k":48,"x":1519,"y":1049,"u":0.122},{"k":48,"x":1891,"y":1106,"u":0.15},
{"k":50,"x":1038,"y":1059,"u":0.002},{"k":50,"x":1131,"y":1063,"u":0.02},{"k":50,"x":1196,"y":1061,"u":0.038},{"k":50,"x":1270,"y":1059,"u":0.058},{"k":50,"x":1364,"y":1057,"u":0.08},{"k":50,"x":1503,"y":1062,"u":0.11},{"k":50,"x":1875,"y":1120,"u":0.138},
{"k":52,"x":1022,"y":1062,"u":0.001},{"k":52,"x":1115,"y":1069,"u":0.016},{"k":52,"x":1180,"y":1069,"u":0.032},{"k":52,"x":1254,"y":1069,"u":0.05},{"k":52,"x":1348,"y":1068,"u":0.07},{"k":52,"x":1487,"y":1074,"u":0.1},{"k":52,"x":1859,"y":1132,"u":0.127},
{"k":54,"x":1005,"y":1065,"u":0.001},{"k":54,"x":1098,"y":1076,"u":0.012},{"k":54,"x":1163,"y":1077,"u":0.026},{"k":54,"x":1237,"y":1079,"u":0.042},{"k":54,"x":1331,"y":1079,"u":0.062},{"k":54,"x":1470,"y":1086,"u":0.09},{"k":54,"x":1842,"y":1145,"u":0.116},
{"k":56,"x":989,"y":1068,"u":0},{"k":56,"x":1082,"y":1081,"u":0.009},{"k":56,"x":1147,"y":1084,"u":0.022},{"k":56,"x":1221,"y":1088,"u":0.035},{"k":56,"x":1315,"y":1089,"u":0.055},{"k":56,"x":1454,"y":1097,"u":0.08},{"k":56,"x":1826,"y":1157,"u":0.106},
{"k":58,"x":972,"y":1071,"u":0},{"k":58,"x":1065,"y":1085,"u":0.007},{"k":58,"x":1130,"y":1091,"u":0.018},{"k":58,"x":1204,"y":1096,"u":0.03},{"k":58,"x":1298,"y":1099,"u":0.048},{"k":58,"x":1437,"y":1108,"u":0.072},{"k":58,"x":1809,"y":1168,"u":0.097},
{"k":60,"x":956,"y":1073,"u":0},{"k":60,"x":1049,"y":1089,"u":0.005},{"k":60,"x":1114,"y":1097,"u":0.014},{"k":60,"x":1188,"y":1104,"u":0.023},{"k":60,"x":1282,"y":1109,"u":0.04},{"k":60,"x":1421,"y":1121,"u":0.06},{"k":60,"x":1793,"y":1177,"u":0.09},
{"k":62,"x":940,"y":1075,"u":0},{"k":62,"x":1033,"y":1092,"u":0.004},{"k":62,"x":1098,"y":1100,"u":0.012},{"k":62,"x":1172,"y":1109,"u":0.02},{"k":62,"x":1265,"y":1116,"u":0.035},{"k":62,"x":1405,"y":1129,"u":0.054},{"k":62,"x":1777,"y":1188,"u":0.08},
{"k":64,"x":923,"y":1078,"u":0},{"k":64,"x":1016,"y":1096,"u":0.003},{"k":64,"x":1081,"y":1106,"u":0.01},{"k":64,"x":1155,"y":1116,"u":0.016},{"k":64,"x":1249,"y":1123,"u":0.03},{"k":64,"x":1388,"y":1138,"u":0.048},{"k":64,"x":1760,"y":1199,"u":0.072},
{"k":68,"x":890,"y":1083,"u":0},{"k":68,"x":983,"y":1102,"u":0.002},{"k":68,"x":1048,"y":1114,"u":0.006},{"k":68,"x":1122,"y":1126,"u":0.011},{"k":68,"x":1216,"y":1136,"u":0.02},{"k":68,"x":1355,"y":1154,"u":0.036},{"k":68,"x":1727,"y":1217,"u":0.058},
{"k":72,"x":858,"y":1087,"u":0},{"k":72,"x":951,"y":1107,"u":0.001},{"k":72,"x":1016,"y":1119,"u":0.004},{"k":72,"x":1090,"y":1132,"u":0.008},{"k":72,"x":1183,"y":1145,"u":0.015},{"k":72,"x":1323,"y":1166,"u":0.028},{"k":72,"x":1695,"y":1233,"u":0.046},
{"k":76,"x":825,"y":1092,"u":0},{"k":76,"x":918,"y":1113,"u":0},{"k":76,"x":983,"y":1126,"u":0.002},{"k":76,"x":1057,"y":1140,"u":0.005},{"k":76,"x":1150,"y":1155,"u":0.01},{"k":76,"x":1290,"y":1178,"u":0.02},{"k":76,"x":1662,"y":1246,"u":0.037}
],
"axes":[
{"a":"u","x":207,"y":204,"x2":207,"y2":1148},
{"a":"u","x":207,"y":204,"x2":172,"y2":194},{"a":"u","x":207,"y":393,"x2":172,"y2":383},{"a":"u","x":207,"y":582,"x2":172,"y2":572},{"a":"u","x":207,"y":770,"x2":172,"y2":760},{"a":"u","x":207,"y":959,"x2":172,"y2":949},{"a":"u","x":207,"y":1148,"x2":172,"y2":1138},
{"a":"u","x":207,"y":1148,"x2":172,"y2":1154},
{"a":"t","x":207,"y":1148,"x2":1137,"y2":1358},
{"a":"u","x":672,"y":1253,"x2":637,"y2":1259},{"a":"u","x":1137,"y":1358,"x2":1102,"y2":1364},
{"a":"y","x":2285,"y":1190,"x2":1137,"y2":1358},
{"a":"u","x":2285,"y":1190,"x2":2320,"y2":1198},{"a":"u","x":2121,"y":1214,"x2":2156,"y2":1222},{"a":"u","x":1957,"y":1238,"x2":1992,"y2":1246},{"a":"u","x":1793,"y":1262,"x2":1828,"y2":1270},{"a":"u","x":1629,"y":1286,"x2":1664,"y2":1294},{"a":"u","x":1465,"y":1310,"x2":1500,"y2":1318},{"a":"u","x":1301,"y":1334,"x2":1336,"y2":1342},{"a":"u","x":1137,"y":1358,"x2":1172,"y2":1366}
],
"ticks":[
{"x":145,"y":203,"text":"1"},{"x":121,"y":391,"text":"0.8"},{"x":121,"y":580,"text":"0.6"},{"x":121,"y":768,"text":"0.4"},{"x":121,"y":957,"text":"0.2"},{"x":145,"y":1142,"text":"0"},
{"x":142,"y":1198,"text":"0"},{"x":585,"y":1307,"text":"0.5"},{"x":1074,"y":1408,"text":"1"},
{"x":2357,"y":1240,"text":"0"},{"x":2191,"y":1266,"text":"1"},{"x":2024,"y":1291,"text":"2"},{"x":1858,"y":1314,"text":"3"},{"x":1694,"y":1340,"text":"4"},{"x":1528,"y":1364,"text":"5"},{"x":1362,"y":1390,"text":"6"},{"x":1198,"y":1413,"text":"7"}
],
"ital":[{"x":711,"y":1472,"text":"t"},{"x":1580,"y":1474,"text":"y"}],
"ulab":[{"x":41,"y":674,"text":"u"}],
"note":[{"x":361,"y":643,"text":"a=1,\u00a0\u00a0n=1,\u00a0\u00a0α=1,\u00a0\u00a0λ=0.1,"},{"x":361,"y":798,"text":"γ=0.98,\u00a0\u00a0Re=1"}]
},
"encoding":{"x":{"field":"x","type":"quantitative","axis":null,"scale":{"domain":[0,2389],"nice":false,"zero":false}},"y":{"field":"y","type":"quantitative","axis":null,"scale":{"domain":[1535,0],"nice":false,"zero":false}}},
"layer":[
{"data":{"name":"floor"},"transform":[{"filter":"datum.p===0"}],"mark":{"type":"area","color":"#4022aa","orient":"vertical"},"encoding":{"y2":{"field":"y2"}}},
{"data":{"name":"floor"},"transform":[{"filter":"datum.p===1"}],"mark":{"type":"area","color":"#4a36cc","opacity":0.45,"orient":"vertical"},"encoding":{"y2":{"field":"y2"}}},
{"data":{"name":"floor"},"transform":[{"filter":"datum.p===2"}],"mark":{"type":"area","color":"#4a45e0","opacity":0.3,"orient":"vertical"},"encoding":{"y2":{"field":"y2"}}},
{"data":{"name":"tl"},"mark":{"type":"line","strokeWidth":2.3,"interpolate":"catmull-rom","stroke":{"gradient":"linear","x1":0,"y1":0,"x2":0,"y2":1,"stops":[{"offset":0,"color":"#ffff00"},{"offset":0.087,"color":"#ffe800"},{"offset":0.132,"color":"#ffd000"},{"offset":0.185,"color":"#ffb810"},{"offset":0.238,"color":"#d8b800"},{"offset":0.264,"color":"#a8c000"},{"offset":0.3,"color":"#70c840"},{"offset":0.337,"color":"#00cc78"},{"offset":0.445,"color":"#00c4a8"},{"offset":0.5,"color":"#00bcc8"},{"offset":0.536,"color":"#00b0d8"},{"offset":0.583,"color":"#00a0e8"},{"offset":0.648,"color":"#0088f8"},{"offset":0.71,"color":"#2070ff"},{"offset":0.774,"color":"#3c5af0"},{"offset":0.86,"color":"#4a3fd8"},{"offset":0.91,"color":"#4a30c0"},{"offset":1,"color":"#4022aa"}]}},"encoding":{"detail":{"field":"i"},"order":null}},
{"data":{"name":"tl"},"transform":[{"filter":"datum.i>=2&&datum.i<100"}],"mark":{"type":"line","strokeWidth":2.3,"interpolate":"catmull-rom","xOffset":9.3,"yOffset":2.1,"stroke":{"gradient":"linear","x1":0,"y1":0,"x2":0,"y2":1,"stops":[{"offset":0,"color":"#ffff00"},{"offset":0.087,"color":"#ffe800"},{"offset":0.132,"color":"#ffd000"},{"offset":0.185,"color":"#ffb810"},{"offset":0.238,"color":"#d8b800"},{"offset":0.264,"color":"#a8c000"},{"offset":0.3,"color":"#70c840"},{"offset":0.337,"color":"#00cc78"},{"offset":0.445,"color":"#00c4a8"},{"offset":0.5,"color":"#00bcc8"},{"offset":0.536,"color":"#00b0d8"},{"offset":0.583,"color":"#00a0e8"},{"offset":0.648,"color":"#0088f8"},{"offset":0.71,"color":"#2070ff"},{"offset":0.774,"color":"#3c5af0"},{"offset":0.86,"color":"#4a3fd8"},{"offset":0.91,"color":"#4a30c0"},{"offset":1,"color":"#4022aa"}]}},"encoding":{"detail":{"field":"i"},"order":null}},
{"data":{"name":"yl"},"transform":[{"window":[{"op":"lead","field":"x","as":"xe"},{"op":"lead","field":"y","as":"ye"}],"groupby":["k"]},{"filter":"isValid(datum.xe)"}],"mark":{"type":"rule","strokeWidth":2.3},"encoding":{"x2":{"field":"xe"},"y2":{"field":"ye"},"color":{"field":"u","type":"quantitative","legend":null,"scale":{"domain":[0,0.03,0.07,0.15,0.214,0.28,0.35,0.4,0.44,0.5,0.62,0.66,0.7,0.73,0.79,0.85,0.9,1],"range":["#4022aa","#4a30c0","#4a3fd8","#3c5af0","#2070ff","#0088f8","#00a0e8","#00b0d8","#00bcc8","#00c4a8","#00cc78","#70c840","#a8c000","#d8b800","#ffb810","#ffd000","#ffe800","#ffff00"]}}}},
{"data":{"name":"yl"},"transform":[{"filter":"datum.k>=42"},{"window":[{"op":"lead","field":"x","as":"xe"},{"op":"lead","field":"y","as":"ye"}],"groupby":["k"]},{"filter":"isValid(datum.xe)"}],"mark":{"type":"rule","strokeWidth":2.3,"xOffset":-8,"yOffset":6},"encoding":{"x2":{"field":"xe"},"y2":{"field":"ye"},"color":{"field":"u","type":"quantitative","legend":null}}},
{"data":{"name":"axes"},"transform":[{"filter":"datum.a==='u'"}],"mark":{"type":"rule","strokeWidth":7,"color":"#222222"},"encoding":{"x2":{"field":"x2"},"y2":{"field":"y2"}}},
{"data":{"name":"axes"},"transform":[{"filter":"datum.a==='t'"}],"mark":{"type":"rule","strokeWidth":3.5,"color":"#222222"},"encoding":{"x2":{"field":"x2"},"y2":{"field":"y2"}}},
{"data":{"name":"axes"},"transform":[{"filter":"datum.a==='y'"}],"mark":{"type":"rule","strokeWidth":6,"color":"#222222"},"encoding":{"x2":{"field":"x2"},"y2":{"field":"y2"}}},
{"data":{"name":"ticks"},"mark":{"type":"text","font":"Liberation Serif","fontWeight":"bold","fontSize":66,"color":"#222222","align":"center","baseline":"middle"},"encoding":{"text":{"field":"text"}}},
{"data":{"name":"ital"},"mark":{"type":"text","font":"Liberation Serif","fontWeight":"bold","fontStyle":"italic","fontSize":76,"color":"#222222","align":"center","baseline":"middle"},"encoding":{"text":{"field":"text"}}},
{"data":{"name":"ulab"},"mark":{"type":"text","font":"Liberation Serif","fontWeight":"bold","fontSize":74,"color":"#222222","align":"center","baseline":"middle","angle":270},"encoding":{"text":{"field":"text"}}},
{"data":{"name":"note"},"mark":{"type":"text","font":"Liberation Serif","fontWeight":"bold","fontSize":63,"color":"#222222","align":"left","baseline":"middle"},"encoding":{"text":{"field":"text"}}}
]}
